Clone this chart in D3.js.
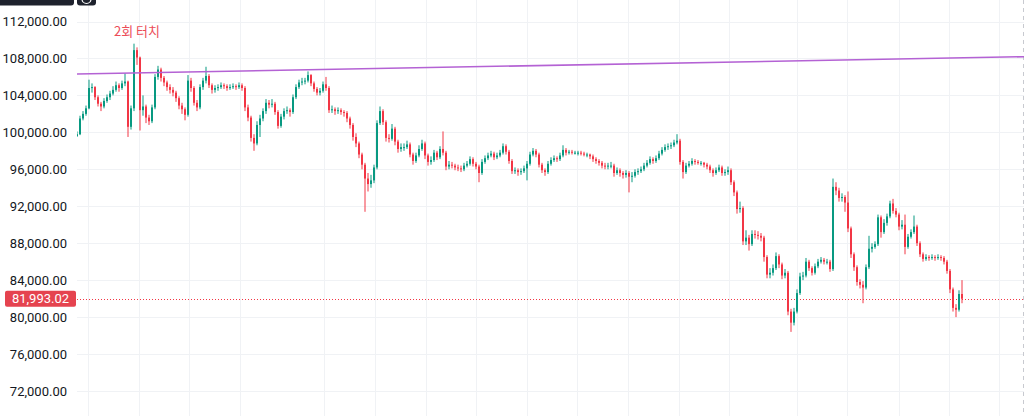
<!DOCTYPE html>
<html><head><meta charset="utf-8">
<script src="https://cdn.jsdelivr.net/npm/d3@7/dist/d3.min.js"></script>
<style>html,body{margin:0;padding:0;background:#fff;overflow:hidden}</style>
</head><body><svg id="c" width="1024" height="416"></svg>
<script>
// ---- data (prices in thousands of USD) ----
const firstOpen = 99.6;
const closes = [
99.8,101.5,102.0,102.6,104.8,104.9,103.8,103.1,102.8,103.4,
103.8,104.2,104.6,105.1,104.8,105.3,105.5,100.6,102.6,108.9,
108.1,102.4,102.8,101.6,101.2,102.7,106.0,106.8,105.9,105.4,
104.9,104.6,104.3,103.7,102.9,102.5,101.9,105.6,104.8,103.2,
102.7,104.9,105.6,106.1,105.1,104.6,104.8,104.9,105.1,105.0,
104.8,104.9,105.0,104.9,105.1,104.8,102.7,101.6,99.4,98.8,
100.8,101.5,102.3,103.2,103.0,103.1,102.2,100.7,101.7,102.3,
102.4,102.2,103.8,104.9,105.4,105.5,105.6,106.2,105.3,104.7,
104.3,104.5,105.2,104.8,102.4,102.5,102.3,102.4,102.2,102.1,
101.5,100.8,99.5,98.8,97.6,96.5,95.0,94.4,94.8,96.2,
101.0,102.3,101.1,99.4,99.3,100.4,99.0,98.2,98.4,98.4,
98.7,97.6,96.9,97.5,98.2,98.8,97.5,96.8,97.0,97.8,
97.3,98.2,97.8,96.3,96.5,96.4,96.2,96.1,96.0,96.4,
96.6,97.1,96.6,96.3,95.6,96.8,97.2,97.5,97.7,97.3,
97.5,97.8,98.5,97.9,96.9,95.8,95.9,95.7,95.8,96.1,
96.6,97.6,98.0,97.6,96.5,95.9,95.7,96.6,97.0,97.2,
97.1,97.5,98.1,97.8,97.9,97.8,97.8,97.8,97.7,97.6,
97.6,97.4,97.1,96.9,96.7,96.4,96.3,96.4,96.4,95.6,
95.9,95.6,95.4,95.6,95.2,95.3,95.7,95.8,96.0,96.4,
96.7,97.1,96.9,97.2,97.7,98.1,98.4,98.5,98.6,98.9,
99.1,96.8,95.7,96.4,96.6,96.9,96.8,96.7,96.7,96.5,
96.3,95.9,95.6,95.9,96.2,95.6,95.7,95.9,94.6,93.5,
91.7,91.8,88.2,88.6,87.9,89.0,88.9,88.8,88.6,86.5,
84.6,84.8,85.3,86.6,85.7,84.5,84.8,80.6,79.4,80.6,
82.6,84.4,84.5,86.0,85.3,84.8,85.5,86.0,86.2,86.0,
86.0,85.2,94.1,93.7,92.9,93.0,92.4,89.6,86.8,85.4,
83.8,83.5,83.2,85.4,87.4,87.6,87.9,90.8,89.2,90.2,
90.9,92.3,91.5,91.1,89.8,90.0,87.6,88.7,89.2,89.8,
88.0,86.8,86.3,86.5,86.4,86.5,86.4,86.5,86.4,86.0,
85.0,83.0,81.0,80.8,82.5,81.993];
const highs = [
100.1,101.8,102.3,102.9,105.7,105.3,105.0,104.0,103.3,103.7,
104.1,104.5,105.0,105.5,105.3,105.6,106.4,105.6,102.9,109.6,
109.2,108.2,104.0,103.0,101.9,103.0,106.3,107.2,107.0,106.1,
105.6,105.2,104.9,104.5,103.9,103.2,102.7,106.2,105.9,105.0,
103.5,105.2,105.9,107.1,106.3,105.3,105.1,105.2,105.4,105.3,
105.2,105.2,105.3,105.2,105.4,105.3,105.0,103.0,101.8,99.8,
101.2,101.9,102.6,103.6,103.5,103.6,103.3,102.4,102.0,102.6,
102.8,102.6,104.1,105.2,105.7,105.9,105.9,106.6,106.3,105.5,
104.9,104.8,105.5,106.0,105.0,102.9,102.7,102.7,102.6,102.4,
102.3,101.7,101.0,99.9,99.0,97.8,96.7,95.6,95.4,96.5,
101.3,102.8,102.5,101.3,99.8,100.9,100.6,99.2,98.8,98.8,
99.1,98.9,97.8,97.8,98.6,99.2,99.0,97.7,97.4,98.1,
98.0,98.5,100.1,98.0,96.9,96.8,96.6,96.5,96.4,96.7,
96.9,97.4,97.3,96.8,96.5,97.1,97.5,97.8,98.0,97.9,
97.8,98.1,98.8,98.7,98.1,97.1,96.2,96.1,96.1,96.4,
96.9,97.9,98.3,98.2,97.8,96.7,96.1,96.9,97.3,97.5,
97.4,97.8,98.6,98.3,98.1,98.1,98.0,98.0,98.0,97.9,
97.8,97.7,97.6,97.3,97.1,96.9,96.7,96.7,96.8,96.6,
96.2,96.1,95.8,95.9,95.8,95.7,96.0,96.1,96.3,96.7,
97.0,97.4,97.3,97.5,98.0,98.4,98.7,98.8,98.9,99.2,
99.8,99.3,97.0,96.7,96.9,97.2,97.1,97.0,96.9,96.8,
96.7,96.5,96.1,96.2,96.5,96.4,96.0,96.3,96.1,94.8,
93.7,92.5,92.0,89.4,88.9,89.4,89.4,89.3,89.1,88.8,
86.7,85.3,85.7,87.0,86.8,85.9,85.2,85.0,80.9,81.0,
83.0,84.8,84.9,86.4,86.2,85.5,85.8,86.3,86.5,86.4,
86.3,86.2,95.0,94.6,94.0,93.4,93.2,93.6,89.8,87.0,
85.6,84.1,83.9,85.7,88.8,88.0,88.2,91.1,91.0,90.6,
91.2,92.6,92.8,91.8,91.3,90.5,91.1,89.0,89.5,91.0,
90.0,88.2,87.0,86.8,86.7,86.8,86.7,86.8,86.7,86.6,
86.2,85.2,83.2,81.4,82.9,84.0];
const lows = [
99.5,99.7,101.3,101.8,102.5,104.3,103.5,102.8,102.3,102.6,
103.2,103.5,104.0,104.4,104.4,104.6,105.0,99.5,100.3,102.3,
107.3,100.2,101.8,101.0,100.8,101.0,102.5,105.7,105.5,105.0,
104.5,104.2,103.9,103.3,102.5,102.0,101.3,101.7,104.4,102.9,
102.3,102.5,104.6,105.3,104.8,104.2,104.3,104.5,104.7,104.7,
104.5,104.6,104.7,104.6,104.7,104.5,102.3,101.2,99.0,98.0,
98.6,99.5,101.2,102.0,102.6,102.7,101.9,100.4,100.5,101.4,
102.0,101.7,102.0,103.6,104.7,105.1,105.2,105.4,105.0,104.4,
104.0,104.0,104.3,104.5,102.1,102.1,101.9,102.0,101.9,101.7,
101.1,100.4,99.1,98.4,97.2,96.0,91.4,93.6,94.0,94.5,
96.0,100.8,100.8,99.0,98.9,99.1,98.6,97.8,97.9,98.0,
98.2,97.3,96.5,96.7,97.3,98.0,97.1,96.4,96.5,96.8,
97.0,97.1,97.5,95.9,96.0,96.1,95.9,95.8,95.7,95.8,
96.2,96.4,96.3,96.0,94.6,95.4,96.6,97.0,97.3,97.0,
97.1,97.3,97.6,97.6,96.6,95.5,95.5,95.3,95.4,95.6,
94.8,96.4,97.4,97.3,96.2,95.6,95.3,95.5,96.4,96.8,
96.8,96.9,97.3,97.5,97.6,97.6,97.6,97.5,97.5,97.4,
97.3,97.1,96.8,96.6,96.4,96.1,96.0,96.0,96.1,95.2,
95.4,95.2,95.0,95.1,93.5,94.6,95.1,95.4,95.6,95.8,
96.2,96.5,96.6,96.7,97.0,97.5,97.9,98.1,98.2,98.4,
98.7,96.5,95.0,95.5,96.2,96.4,96.5,96.5,96.4,96.2,
96.0,95.6,95.2,95.4,95.7,95.3,95.3,95.4,94.3,93.1,
91.2,91.3,87.8,87.8,87.2,87.7,88.5,88.4,88.2,86.0,
84.2,84.2,84.5,85.1,85.3,84.1,84.2,80.2,78.4,79.1,
80.4,82.4,84.0,84.3,85.0,84.5,84.6,85.3,85.8,85.7,
85.7,84.9,85.0,93.2,92.5,92.5,91.4,89.2,86.4,85.0,
83.4,83.1,81.5,83.0,85.2,87.0,87.4,87.7,88.6,89.0,
89.9,90.7,91.2,90.8,89.4,89.5,86.8,87.4,88.5,89.0,
87.7,86.5,86.0,86.1,86.1,86.2,86.1,86.2,86.1,85.7,
84.7,82.6,80.6,80.0,80.6,81.5];
const priceTicks = [72,76,80,84,88,92,96,100,104,108,112];
const priceTickLabels = ["72,000.00","76,000.00","80,000.00","84,000.00","88,000.00","92,000.00","96,000.00","100,000.00","104,000.00","108,000.00","112,000.00"];
const timeGridTicks = [3.7,20.6,37.4,54.3,82.4,99.4,116.2,133,149.9,166.8,183.8,200.8,217.4,240.1,256.8,273.9,290.6,307.4];
const trendLine = [{i:0, v:106.32},{i:315.67, v:108.19}];
const lastPrice = 81.99302;
const lastPriceLabel = "81,993.02";
const annotation = {text:"2회 터치", i:20, v:110.97};

// ---- build ----
const W = 1024, H = 416, plotLeft = 77;
const candles = closes.map((c, i) => ({i, o: i === 0 ? firstOpen : closes[i-1], c, h: highs[i], l: lows[i]}));
const x = d3.scaleLinear().domain([0, closes.length - 1]).range([77, 962]);
const y = d3.scaleLinear().domain([72, 112]).range([391, 21.5]);
const UP = "#089981", DOWN = "#f23645";

const svg = d3.select("#c");
svg.append("defs").append("clipPath").attr("id","plot")
  .append("rect").attr("x", plotLeft).attr("y", 0).attr("width", W - plotLeft).attr("height", H);

// grid
const grid = svg.append("g");
grid.selectAll("line.h").data(priceTicks).join("line")
  .attr("x1", plotLeft).attr("x2", W)
  .attr("y1", d => Math.round(y(d)) + 0.5).attr("y2", d => Math.round(y(d)) + 0.5)
  .attr("stroke", "#f0f2f5").attr("stroke-width", 1);
grid.selectAll("line.v").data(timeGridTicks).join("line")
  .attr("x1", d => Math.round(x(d)) + 0.5).attr("x2", d => Math.round(x(d)) + 0.5)
  .attr("y1", 0).attr("y2", H)
  .attr("stroke", "#f0f2f5").attr("stroke-width", 1);

// right edge dashed line
svg.append("line").attr("x1", 1023.5).attr("x2", 1023.5).attr("y1", 0).attr("y2", H)
  .attr("stroke", "#c8cad0").attr("stroke-dasharray", "4,4");

// price axis labels
const axis = svg.append("g")
  .attr("font-family", "Roboto, 'Noto Sans', sans-serif").attr("font-size", 13).attr("fill", "#131722");
axis.selectAll("text").data(priceTicks).join("text")
  .attr("x", 67).attr("y", d => y(d)).attr("dy", "0.36em").attr("text-anchor", "end")
  .text((d, k) => priceTickLabels[k]);

// last price dotted line
svg.append("line").attr("x1", plotLeft).attr("x2", W)
  .attr("y1", Math.round(y(lastPrice)) + 0.5).attr("y2", Math.round(y(lastPrice)) + 0.5)
  .attr("stroke", DOWN).attr("stroke-width", 1).attr("stroke-dasharray", "1,2");

// candles
const cg = svg.append("g").attr("clip-path", "url(#plot)");
const cs = cg.selectAll("g").data(candles).join("g")
  .attr("fill", d => d.c >= d.o ? UP : DOWN).attr("stroke", d => d.c >= d.o ? UP : DOWN);
cs.append("line")
  .attr("x1", d => x(d.i)).attr("x2", d => x(d.i))
  .attr("y1", d => y(d.h)).attr("y2", d => y(d.l)).attr("stroke-width", 1);
cs.append("rect")
  .attr("x", d => x(d.i) - 1).attr("width", 2)
  .attr("y", d => y(Math.max(d.o, d.c)))
  .attr("height", d => Math.max(1, y(Math.min(d.o, d.c)) - y(Math.max(d.o, d.c))))
  .attr("stroke", "none");

// trend line
svg.append("line").attr("clip-path", "url(#plot)")
  .attr("x1", x(trendLine[0].i)).attr("y1", y(trendLine[0].v))
  .attr("x2", x(trendLine[1].i)).attr("y2", y(trendLine[1].v))
  .attr("stroke", "#b462d4").attr("stroke-width", 1.6);

// annotation
svg.append("text").attr("x", x(annotation.i)).attr("y", y(annotation.v)).attr("dy", "0.36em")
  .attr("text-anchor", "middle").attr("font-family", "'Noto Sans CJK KR', sans-serif")
  .attr("font-size", 13).attr("fill", "#ec4c58").text(annotation.text);

// last price label
const ly = y(lastPrice);
svg.append("rect").attr("x", 5).attr("y", ly - 8).attr("width", 71).attr("height", 16).attr("rx", 2)
  .attr("fill", "#e5434f");
svg.append("text").attr("x", 40.5).attr("y", ly).attr("dy", "0.36em").attr("text-anchor", "middle")
  .attr("font-family", "Roboto, 'Noto Sans', sans-serif").attr("font-size", 13).attr("fill", "#fff")
  .text(lastPriceLabel);

// cropped toolbar at top-left
svg.append("rect").attr("x", -4).attr("y", -6).attr("width", 78).attr("height", 11.5).attr("rx", 3).attr("fill", "#1e222d");
svg.append("rect").attr("x", 77).attr("y", -6).attr("width", 19).attr("height", 11.5).attr("rx", 3).attr("fill", "#1e222d");
svg.append("circle").attr("cx", 86.5).attr("cy", -1).attr("r", 4.5).attr("fill", "none").attr("stroke", "#fff").attr("stroke-width", 1.2);
</script></body></html>
